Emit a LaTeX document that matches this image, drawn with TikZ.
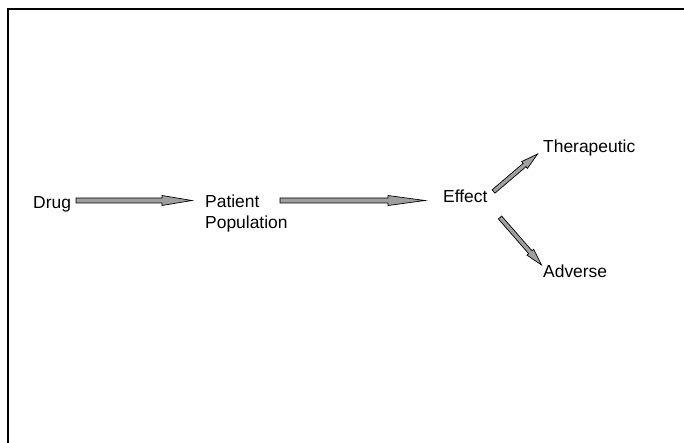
\documentclass[tikz,border=0pt]{standalone}
\usepackage{fontspec}
\setmainfont{Liberation Sans}
\usetikzlibrary{calc}
\tikzset{
  lbl/.style={inner sep=0pt, anchor=base west, font=\fontsize{17.5}{22}\selectfont, align=left},
  frameline/.style={line width=2.2bp, draw=black},
  blockarr/.style={draw=black, fill=gray!75, line width=0.7bp, line join=miter},
}
% #1 tail, #2 tip, #3 head length, #4 half shaft width, #5 half head width
\newcommand\myblockarrow[5]{%
  \coordinate (hb) at ($(#2)!#3!(#1)$);
  \draw[blockarr]
    ($(#1)!#4!90:(#2)$) -- ($(hb)!#4!90:(#2)$) -- ($(hb)!#5!90:(#2)$) --
    (#2) --
    ($(hb)!#5!-90:(#2)$) -- ($(hb)!#4!-90:(#2)$) -- ($(#1)!#4!-90:(#2)$) -- cycle;
}
\begin{document}
\begin{tikzpicture}[x=1bp, y=-1bp]
\useasboundingbox (0,0) rectangle (684,443);
% frame
\draw[frameline] (8.3,443) -- (8.3,8.8) -- (684,8.8);
% labels
\node[lbl] (drug) at (33,209) {Drug};
\node[lbl] (pop) at (205,229) {Patient\\Population};
\node[lbl] (eff) at (443,203) {Effect};
\node[lbl] (ther) at (543,153) {Therapeutic};
\node[lbl] (adv) at (543,278) {Adverse};
% arrow end points
\coordinate (a1t) at (76,200.5);
\coordinate (a1h) at (192,200.5);
\coordinate (a2t) at (280,200.5);
\coordinate (a2h) at (425,200.5);
\coordinate (a3t) at (493.5,191.5);
\coordinate (a3h) at (537.5,154);
\coordinate (a4t) at (500,217.5);
\coordinate (a4h) at (541.5,265);
% arrows
\myblockarrow{a1t}{a1h}{30bp}{2.5bp}{5bp}
\myblockarrow{a2t}{a2h}{37bp}{2.5bp}{5bp}
\myblockarrow{a3t}{a3h}{17bp}{2.2bp}{4.5bp}
\myblockarrow{a4t}{a4h}{17bp}{2.2bp}{4.5bp}
\end{tikzpicture}
\end{document}
